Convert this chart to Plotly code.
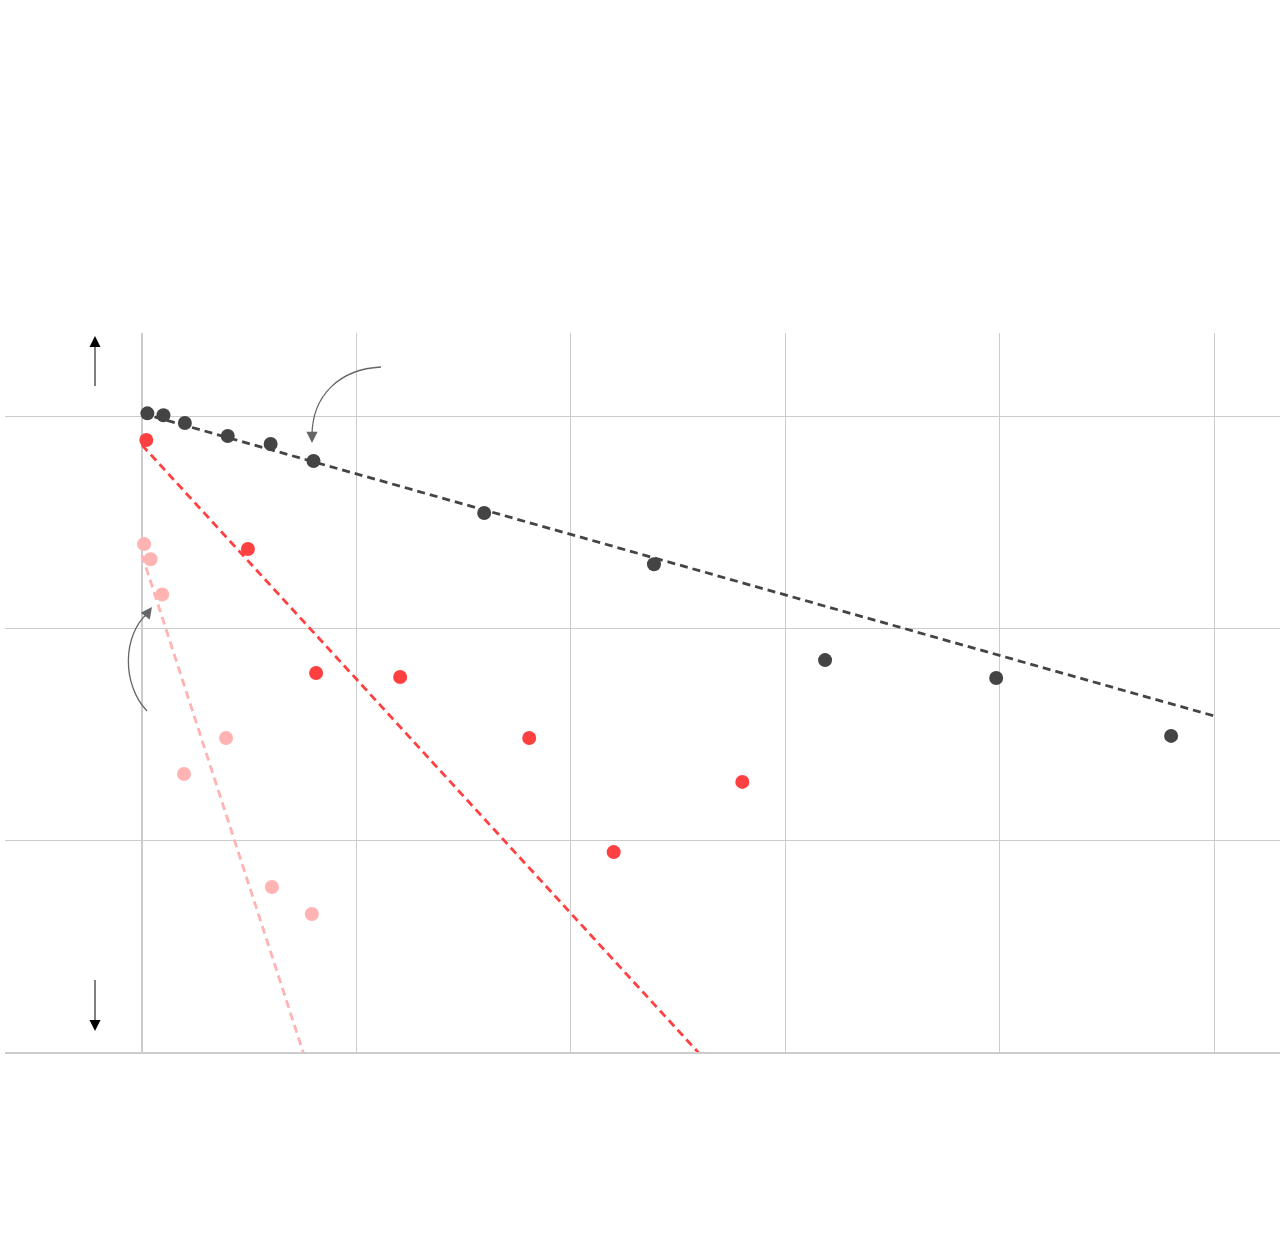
import plotly.graph_objects as go

# ---- data ----
dark_x = [0.125, 0.5, 1, 2, 3, 4, 7.98, 11.94, 15.93, 19.92, 24]
dark_y = [103, 101, 92.7, 80.5, 73.8, 61.4, 34.9, 20.0, 7.06, 5.81, 3.10]

red_x = [0.1, 2.47, 4.06, 6.02, 9.03, 11, 14]
red_y = [77.1, 23.6, 6.14, 5.88, 3.03, 0.877, 1.88]

pink_x = [0.05, 0.2, 0.47, 0.98, 1.96, 3.03, 3.96]
pink_y = [24.9, 21.1, 14.4, 2.05, 3.03, 0.60, 0.448]

# fitted trend lines (end points)
dark_fit_x = [0, 25]
dark_fit_y = [103, 3.85]
red_fit_x = [0, 14]
red_fit_y = [73, 0.059]
pink_fit_x = [0, 4]
pink_fit_y = [22.1, 0.0705]

DARK = "#444444"
RED = "#ff4040"
PINK = "#ffb3b3"
GRID = "#cccccc"

W, H = 1280, 1234
L, R, T, B = 5, 0, 333, 182
PW, PH = W - L - R, H - T - B


def px(x):
    return (x - L) / PW


def py(y):
    return (H - B - y) / PH


fig = go.Figure()

for fx, fy, c in [(pink_fit_x, pink_fit_y, PINK), (red_fit_x, red_fit_y, RED), (dark_fit_x, dark_fit_y, DARK)]:
    fig.add_trace(go.Scatter(x=fx, y=fy, mode="lines",
                             line=dict(color=c, width=2.8, dash="8px,5px"),
                             hoverinfo="skip", showlegend=False))

for xs, ys, c in [(pink_x, pink_y, PINK), (red_x, red_y, RED), (dark_x, dark_y, DARK)]:
    fig.add_trace(go.Scatter(x=xs, y=ys, mode="markers",
                             marker=dict(color=c, size=14, line=dict(width=0)),
                             showlegend=False))

shapes = []
# vertical arrows (shafts)
shapes.append(dict(type="line", xref="paper", yref="paper",
                   x0=px(95), x1=px(95), y0=py(386), y1=py(344),
                   line=dict(color="#808080", width=2)))
shapes.append(dict(type="line", xref="paper", yref="paper",
                   x0=px(95), x1=px(95), y0=py(980), y1=py(1022),
                   line=dict(color="#808080", width=2)))


def path_cubic(p0, c1, c2, p1):
    return "M {} {} C {} {}, {} {}, {} {}".format(
        px(p0[0]), py(p0[1]), px(c1[0]), py(c1[1]),
        px(c2[0]), py(c2[1]), px(p1[0]), py(p1[1]))


shapes.append(dict(type="path", xref="paper", yref="paper",
                   path=path_cubic((381, 367), (340, 369), (312, 395), (312, 436)),
                   line=dict(color="#666666", width=1.3)))
shapes.append(dict(type="path", xref="paper", yref="paper",
                   path=path_cubic((147, 711), (122, 685), (122, 635), (148, 613)),
                   line=dict(color="#666666", width=1.3)))

annotations = [
    dict(xref="paper", yref="paper", x=px(95), y=py(336), ax=0, ay=9,
         text="", showarrow=True, arrowhead=2, arrowsize=1.1, arrowwidth=2,
         arrowcolor="#000000", standoff=0),
    dict(xref="paper", yref="paper", x=px(95), y=py(1031), ax=0, ay=-9,
         text="", showarrow=True, arrowhead=2, arrowsize=1.1, arrowwidth=2,
         arrowcolor="#000000", standoff=0),
    dict(xref="paper", yref="paper", x=px(312), y=py(443), ax=0, ay=-9,
         text="", showarrow=True, arrowhead=2, arrowsize=1.5, arrowwidth=1.5,
         arrowcolor="#666666", standoff=0),
    dict(xref="paper", yref="paper", x=px(152), y=py(607), ax=-6, ay=8,
         text="", showarrow=True, arrowhead=2, arrowsize=1.5, arrowwidth=1.5,
         arrowcolor="#666666", standoff=0),
]

fig.update_layout(
    width=W, height=H,
    margin=dict(l=L, r=R, t=T, b=B, pad=0),
    paper_bgcolor="white", plot_bgcolor="white",
    showlegend=False,
    shapes=shapes, annotations=annotations,
    xaxis=dict(range=[-137 / 42.88, 1138 / 42.88], dtick=5, tick0=0,
               showgrid=True, gridcolor=GRID, gridwidth=1,
               zeroline=True, zerolinecolor=GRID, zerolinewidth=2,
               showline=True, linecolor=GRID, linewidth=2,
               showticklabels=False, ticks=""),
    yaxis=dict(type="log", range=[-1, 2.392], dtick=1,
               showgrid=True, gridcolor=GRID, gridwidth=1,
               zeroline=False, showline=False,
               showticklabels=False, ticks=""),
)

fig.write_html("out.html", config={"displayModeBar": False},
               post_script="document.body.style.margin='0';document.body.style.overflow='hidden';")
